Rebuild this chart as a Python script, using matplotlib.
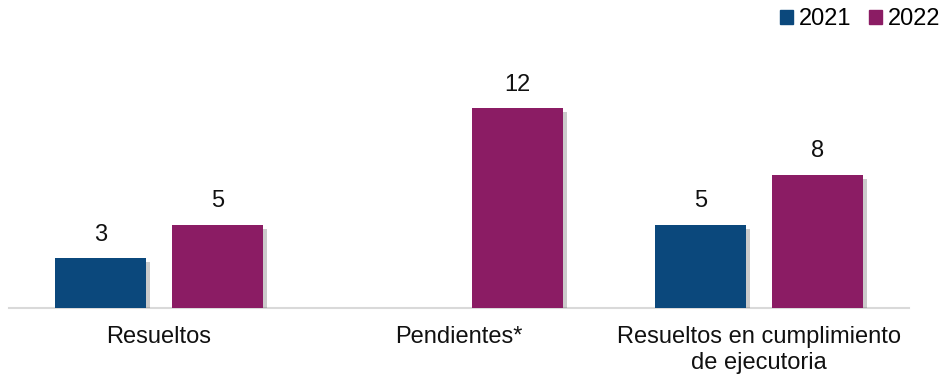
import matplotlib
matplotlib.use('Agg')
import matplotlib.pyplot as plt
import matplotlib.patheffects as pe
import numpy as np

plt.rcParams['font.family'] = ['Liberation Sans', 'DejaVu Sans']

categories = ['Resueltos', 'Pendientes*', 'Resueltos en cumplimiento\nde ejecutoria']
series_names = ['2021', '2022']
values_2021 = [3, None, 5]
values_2022 = [5, 12, 8]
colors = ['#0B487C', '#8B1C64']

fig = plt.figure(figsize=(9.45, 3.76), dpi=100)
ax = fig.add_axes([9 / 945, 68 / 376, 900 / 945, 0.62])

x = np.arange(len(categories))
w = 0.305
off = 0.195
shadow = [pe.SimplePatchShadow(offset=(3, -3), shadow_rgbFace='#555555', alpha=0.3), pe.Normal()]

handles = []
for vals, sign, c, name in [(values_2021, -1, colors[0], series_names[0]),
                            (values_2022, 1, colors[1], series_names[1])]:
    xs = [xi + sign * off for xi, v in zip(x, vals) if v is not None]
    vs = [v for v in vals if v is not None]
    bars = ax.bar(xs, vs, width=w, color=c, zorder=3)
    for b in bars:
        b.set_path_effects(shadow)
    handles.append(plt.Rectangle((0, 0), 1, 1, color=c, label=name))
    for xi, v in zip(xs, vs):
        ax.text(xi, v + 0.75, str(v), ha='center', va='bottom', fontsize=17, color='#111111')

ax.set_xlim(-0.5, 2.5)
ax.set_ylim(0, 14)
ax.set_xticks(x)
ax.set_xticklabels(categories, fontsize=17, color='#111111', linespacing=1.25)
ax.tick_params(axis='x', length=0, pad=13)
ax.set_yticks([])
for s in ['top', 'right', 'left']:
    ax.spines[s].set_visible(False)
ax.spines['bottom'].set_color('#D9D9D9')
ax.spines['bottom'].set_linewidth(1.5)

fig.legend(handles=handles, loc='upper right', bbox_to_anchor=(1.018, 1.035), ncol=2, frameon=False,
           fontsize=17, handlelength=0.55, handleheight=0.55, handletextpad=0.25,
           columnspacing=0.75)

plt.savefig('out.png', dpi=100)
